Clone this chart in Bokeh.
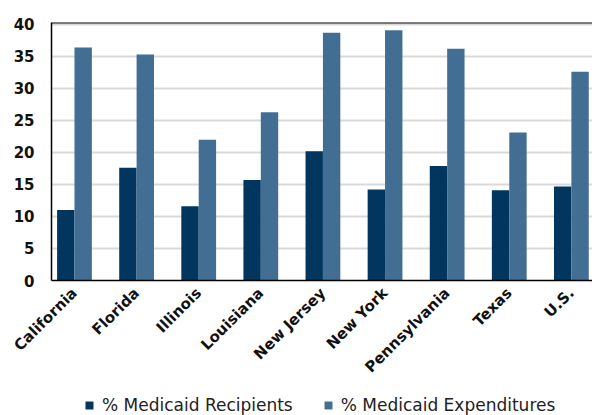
import math
from bokeh.plotting import figure
from bokeh.layouts import column
from bokeh.models import ColumnDataSource, FixedTicker, Legend, LegendItem, Range1d, Span
from bokeh.transform import dodge
from bokeh.embed import file_html
from bokeh.resources import INLINE

states = ["California", "Florida", "Illinois", "Louisiana", "New Jersey",
          "New York", "Pennsylvania", "Texas", "U.S."]
recipients = [11.0, 17.6, 11.6, 15.7, 20.2, 14.2, 17.9, 14.1, 14.7]
expenditures = [36.4, 35.3, 22.0, 26.3, 38.7, 39.1, 36.2, 23.1, 32.6]
y_ticks = [0, 5, 10, 15, 20, 25, 30, 35, 40]
series_names = ["% Medicaid Recipients", "% Medicaid Expenditures"]

DARK = "#02365f"
LIGHT = "#436e94"
BOLD_FONT = "DejaVu Sans"
LEGEND_FONT = "DejaVu Sans"

idx = list(range(len(states)))
src = ColumnDataSource(dict(x=idx, rec=recipients, exp=expenditures))

p = figure(width=592, height=385, output_backend="svg", toolbar_location=None,
           x_range=Range1d(-0.37, 8.34), y_range=Range1d(0, 40.3))
p.min_border_left = 51
p.min_border_right = 0
p.min_border_top = 22
p.min_border_bottom = 101
p.outline_line_color = None

bw = 0.28
p.vbar(x=dodge("x", -bw / 2), top="rec", width=bw, source=src,
       fill_color=DARK, line_color=None)
p.vbar(x=dodge("x", bw / 2), top="exp", width=bw, source=src,
       fill_color=LIGHT, line_color=None)

# horizontal grid
p.xgrid.visible = False
p.ygrid.ticker = FixedTicker(ticks=y_ticks)
p.ygrid.grid_line_color = "#d9d9d9"
p.ygrid.grid_line_width = 2

# top border
p.add_layout(Span(location=40.25, dimension="width", line_color="black", line_width=1.5))

# y axis
ya = p.yaxis[0]
ya.ticker = FixedTicker(ticks=y_ticks)
ya.axis_line_color = "black"
ya.axis_line_width = 1.5
ya.major_tick_line_color = None
ya.minor_tick_line_color = None
ya.major_label_text_font = BOLD_FONT
ya.major_label_text_font_style = "bold"
ya.major_label_text_font_size = "15px"
ya.major_label_text_color = "#111111"
ya.major_label_standoff = 11

# x axis with state names
xa = p.xaxis[0]
xa.ticker = FixedTicker(ticks=idx)
xa.major_label_overrides = {i: s for i, s in enumerate(states)}
xa.major_label_orientation = math.pi / 4
xa.axis_line_color = "black"
xa.axis_line_width = 1.5
xa.major_tick_line_color = None
xa.minor_tick_line_color = None
xa.major_label_text_font = BOLD_FONT
xa.major_label_text_font_style = "bold"
xa.major_label_text_font_size = "15px"
xa.major_label_text_color = "#111111"
xa.major_label_standoff = 4

# legend strip underneath the chart (its frame lines up with the chart frame)
lg = figure(width=592, height=30, output_backend="svg", toolbar_location=None,
            x_range=Range1d(0, 1), y_range=Range1d(0, 1),
            x_axis_type=None, y_axis_type=None)
lg.min_border = 0
lg.outline_line_color = None
lg.xgrid.visible = False
lg.ygrid.visible = False
key_src = ColumnDataSource(dict(x=[-1.0], top=[0.0]))
k1 = lg.vbar(x="x", top="top", width=0.1, source=key_src, fill_color=DARK, line_color=None)
k2 = lg.vbar(x="x", top="top", width=0.1, source=key_src, fill_color=LIGHT, line_color=None)

legend = Legend(items=[LegendItem(label=series_names[0], renderers=[k1]),
                       LegendItem(label=series_names[1], renderers=[k2])],
                orientation="horizontal", location=(33, 0))
legend.label_text_font = LEGEND_FONT
legend.label_text_font_size = "17px"
legend.label_text_color = "#222222"
legend.glyph_width = 10
legend.glyph_height = 10
legend.label_height = 20
legend.label_standoff = 8
legend.spacing = 30
legend.border_line_color = None
legend.background_fill_alpha = 0
legend.padding = 0
legend.margin = 0
lg.add_layout(legend)

layout = column(p, lg, spacing=0)
open("out.html", "w").write(file_html(layout, INLINE))
